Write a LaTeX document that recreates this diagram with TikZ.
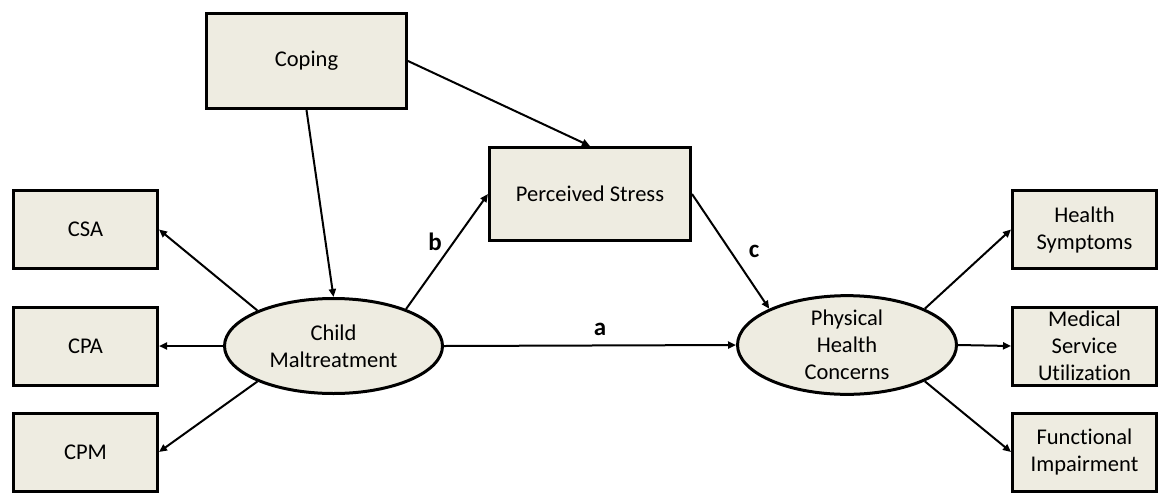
\documentclass[tikz,border=0pt]{standalone}
\usepackage{fontspec}
\setmainfont[RawFeature={-liga}]{Carlito}
\usetikzlibrary{shapes.geometric,arrows.meta}
\definecolor{boxfill}{HTML}{EEECE1}
\tikzset{
  varbox/.style={draw=black, line width=3pt, fill=boxfill, rectangle, inner sep=0pt,
    align=center, font=\fontsize{22.5}{27}\selectfont},
  latent/.style={draw=black, line width=3pt, fill=boxfill, ellipse, inner sep=0pt,
    align=center, font=\fontsize{22.5}{27}\selectfont},
  path/.style={line width=2pt, -{Triangle[length=8pt,width=7pt]}},
  pathlabel/.style={font=\fontsize{25}{28}\selectfont\bfseries}
}
\begin{document}
\begin{tikzpicture}[x=1pt,y=-1pt]
\useasboundingbox (0,0) rectangle (1161,493);
% observed indicators of child maltreatment
\node[varbox, minimum width=144pt, minimum height=78pt] (csa) at (85.5,229.5) {CSA};
\node[varbox, minimum width=144pt, minimum height=78pt] (cpa) at (85.5,346) {CPA};
\node[varbox, minimum width=144pt, minimum height=78pt] (cpm) at (85.5,452) {CPM};
% moderator and mediator
\node[varbox, minimum width=200pt, minimum height=95pt] (coping) at (306.5,61) {Coping};
\node[varbox, minimum width=201pt, minimum height=93pt] (stress) at (590,194) {Perceived Stress};
% observed indicators of physical health
\node[varbox, minimum width=144pt, minimum height=78pt] (hs) at (1084.5,229.5) {Health\\Symptoms};
\node[varbox, minimum width=144pt, minimum height=78pt] (msu) at (1084.5,346) {Medical\\Service\\Utilization};
\node[varbox, minimum width=144pt, minimum height=78pt] (fi) at (1084.5,452) {Functional\\Impairment};
% latent variables
\node[latent, minimum width=218pt, minimum height=95pt] (cm) at (333.5,346) {Child\\Maltreatment};
\node[latent, minimum width=219pt, minimum height=93pt] (phc) at (847,345) {Physical\\Health\\Concerns};
% measurement paths
\draw[path] (cm.155) -- (csa.east);
\draw[path] (cm.west) -- (cpa.west -| cpa.east);
\draw[path] (cm.205) -- (cpm.east);
\draw[path] (phc.25) -- (hs.west);
\draw[path] (phc.east) -- (msu.west);
\draw[path] (phc.-25) -- (fi.west);
% structural paths
\draw[path] (coping.south) -- (cm.north);
\draw[path] (coping.east) -- (stress.north);
\draw[path] (cm.27) -- (stress.west);
\draw[path] (stress.east) -- (phc.155);
\draw[path] (cm.east) -- (phc.west);
% path labels
\node[pathlabel] (la) at (600,329) {a};
\node[pathlabel] (lb) at (435,242) {b};
\node[pathlabel] (lc) at (754,251) {c};
\end{tikzpicture}
\end{document}
